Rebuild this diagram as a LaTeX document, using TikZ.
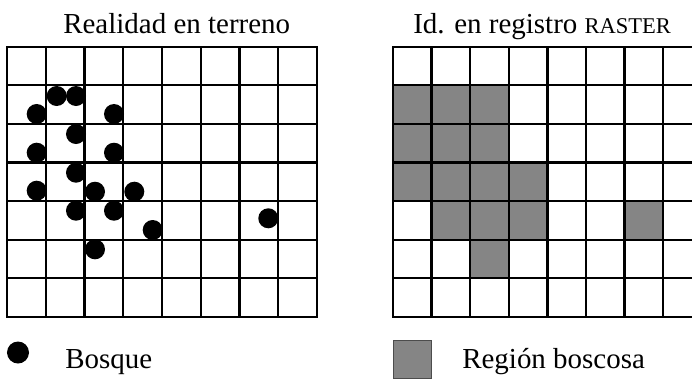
\documentclass[tikz,border=0pt]{standalone}
\usepackage{fontspec}
\setmainfont{Liberation Serif}
\begin{document}
\begin{tikzpicture}[x=0.025cm,y=-0.025cm]

    \tikzset{forestdot/.style={fill=black,shape=circle,inner sep=0pt,minimum size=0.5cm},
             cellfill/.style={fill=black!48},
             gridline/.style={line width=1.6pt,line cap=rect},
             labeltext/.style={font=\fontsize{20.6}{24}\selectfont,inner sep=0pt,anchor=base west}}
    \useasboundingbox (0,0) rectangle (692,382);

    % titles
    \node[labeltext] (title1) at (63,33) {Realidad en terreno};
    \node[labeltext] (title2) at (413,33) {Id. en registro {\fontsize{16}{19}\selectfont RASTER}};

    % raster cells
    \foreach \c/\r in {0/1,1/1,2/1,0/2,1/2,2/2,0/3,1/3,2/3,3/3,1/4,2/4,3/4,6/4,2/5}
        \fill[cellfill] (393+\c*38.6,46.7+\r*38.6) rectangle ++(38.6,38.6);

    % grids
    \begin{scope}[every path/.style={gridline}]
        \foreach \i in {0,...,8} {
            \draw (7+\i*38.75,46.7) -- (7+\i*38.75,317);
            \draw (393+\i*38.6,46.7) -- (393+\i*38.6,317);
        }
        \foreach \j in {0,...,7} {
            \draw (7,46.7+\j*38.6) -- (317,46.7+\j*38.6);
            \draw (393,46.7+\j*38.6) -- (701.8,46.7+\j*38.6);
        }
    \end{scope}

    % forest points
    \foreach \x/\y [count=\k] in {56.7/96,76/96,36.7/114,114/114,76/134,36.7/152.7,114/152.7,
            76/172.7,36.7/190.7,95/191.7,134.3/191.7,76/210.7,114/210.7,152.7/230,268.3/218.3,95/249.3}
        \node[forestdot] (p\k) at (\x,\y) {};

    % legend
    \node[forestdot,minimum size=0.55cm] (key1) at (18,352.5) {};
    \node[labeltext] (bosque) at (65,368) {Bosque};
    \node[cellfill,draw=black!70,line width=0.6pt,minimum size=0.95cm,inner sep=0pt] (key2) at (412,359) {};
    \node[labeltext] (region) at (462,368) {Región boscosa};
\end{tikzpicture}
\end{document}
